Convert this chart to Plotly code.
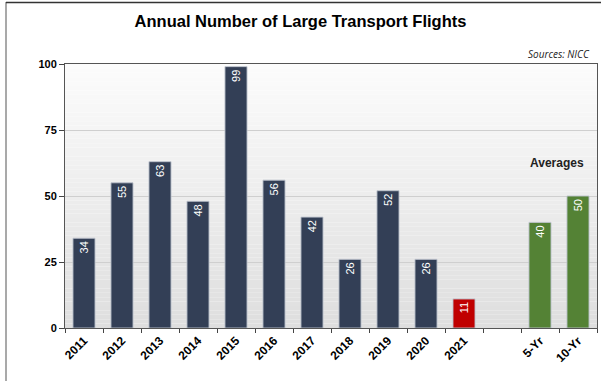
import plotly.graph_objects as go

# Annual flight counts plus 5- and 10-year averages
years = ["2011", "2012", "2013", "2014", "2015", "2016", "2017",
         "2018", "2019", "2020", "2021"]
year_values = [34, 55, 63, 48, 99, 56, 42, 26, 52, 26, 11]
avg_labels = ["5-Yr", "10-Yr"]
avg_values = [40, 50]
y_ticks = [0, 25, 50, 75, 100]

NAVY = "#333f56"
RED = "#c00000"
GREEN = "#548235"

categories = years + [" "] + avg_labels
values = year_values + [None] + avg_values
colors = [NAVY] * (len(years) - 1) + [RED] + ["rgba(0,0,0,0)"] + [GREEN] * len(avg_labels)
labels = [str(v) if v is not None else "" for v in values]

W, H = 601, 381
L, R, T, B = 65, 4, 64, 53
pw, ph = W - L - R, H - T - B

fig = go.Figure()
fig.add_trace(go.Bar(
    x=categories, y=values,
    marker=dict(color=colors, line=dict(color="rgba(190,195,205,0.9)", width=1)),
    text=labels, textposition="inside", insidetextanchor="end", textangle=-90,
    textfont=dict(family="Liberation Sans, Arial", size=11, color="white"),
    cliponaxis=False, hoverinfo="x+y",
))

# vertical gradient backdrop for the plotting area
shapes = []
n = 60
for i in range(n):
    t = i / (n - 1)
    g = int(round(252 - (252 - 222) * (1 - t)))
    shapes.append(dict(type="rect", xref="paper", yref="paper",
                       x0=0, x1=1, y0=i / n, y1=(i + 1) / n,
                       fillcolor=f"rgb({g},{g},{g})", line=dict(width=0), layer="below"))

# outer frame lines
def px_x(x):
    return (x - L) / pw

def px_y(y):
    return (H - B - y) / ph

shapes.append(dict(type="line", xref="paper", yref="paper",
                   x0=px_x(6), x1=px_x(6), y0=px_y(2), y1=px_y(381),
                   line=dict(color="#8c8c8c", width=1.5), layer="above"))
shapes.append(dict(type="line", xref="paper", yref="paper",
                   x0=px_x(6), x1=px_x(601), y0=px_y(2.5), y1=px_y(2.5),
                   line=dict(color="#333333", width=1.5), layer="above"))

fig.update_layout(
    width=W, height=H,
    margin=dict(l=L, r=R, t=T, b=B, pad=0),
    paper_bgcolor="white", plot_bgcolor="rgba(0,0,0,0)",
    bargap=0.42, showlegend=False,
    shapes=shapes,
    title=dict(text="Annual Number of Large Transport Flights",
               x=0.5, xref="container", xanchor="center",
               y=1 - 21 / H, yref="container", yanchor="middle",
               font=dict(family="Liberation Sans, Arial", size=16.5, color="black", weight="bold")),
    font=dict(family="Liberation Sans, Arial", color="black"),
    annotations=[
        dict(text="Sources: NICC", xref="paper", yref="paper",
             x=px_x(592), y=px_y(54), xanchor="right", yanchor="middle",
             showarrow=False,
             font=dict(family="Open Sans", size=10, color="#222", style="italic")),
        dict(text="Averages", xref="x", yref="y", x=12.45, y=62.5,
             xanchor="center", yanchor="middle", showarrow=False,
             font=dict(family="Liberation Sans, Arial", size=12, color="#222", weight="bold")),
    ],
)

fig.update_xaxes(
    type="category", categoryorder="array", categoryarray=categories,
    tickson="boundaries", ticks="outside", ticklen=4, tickcolor="#444",
    tickangle=-45, tickfont=dict(family="Liberation Sans, Arial", size=12, color="black", weight="bold"),
    showline=True, linecolor="#555", linewidth=1, mirror=True,
    showgrid=False, range=[-0.5, len(categories) - 0.5],
)
fig.update_yaxes(
    range=[0, 100], tickvals=y_ticks, ticks="outside", ticklen=5, tickcolor="#444",
    tickfont=dict(family="Liberation Sans, Arial", size=11, color="black", weight="bold"),
    showline=True, linecolor="#555", linewidth=1, mirror=True,
    showgrid=True, gridcolor="#cfcfcf", gridwidth=1, zeroline=False,
)

fig.write_html("out.html")
